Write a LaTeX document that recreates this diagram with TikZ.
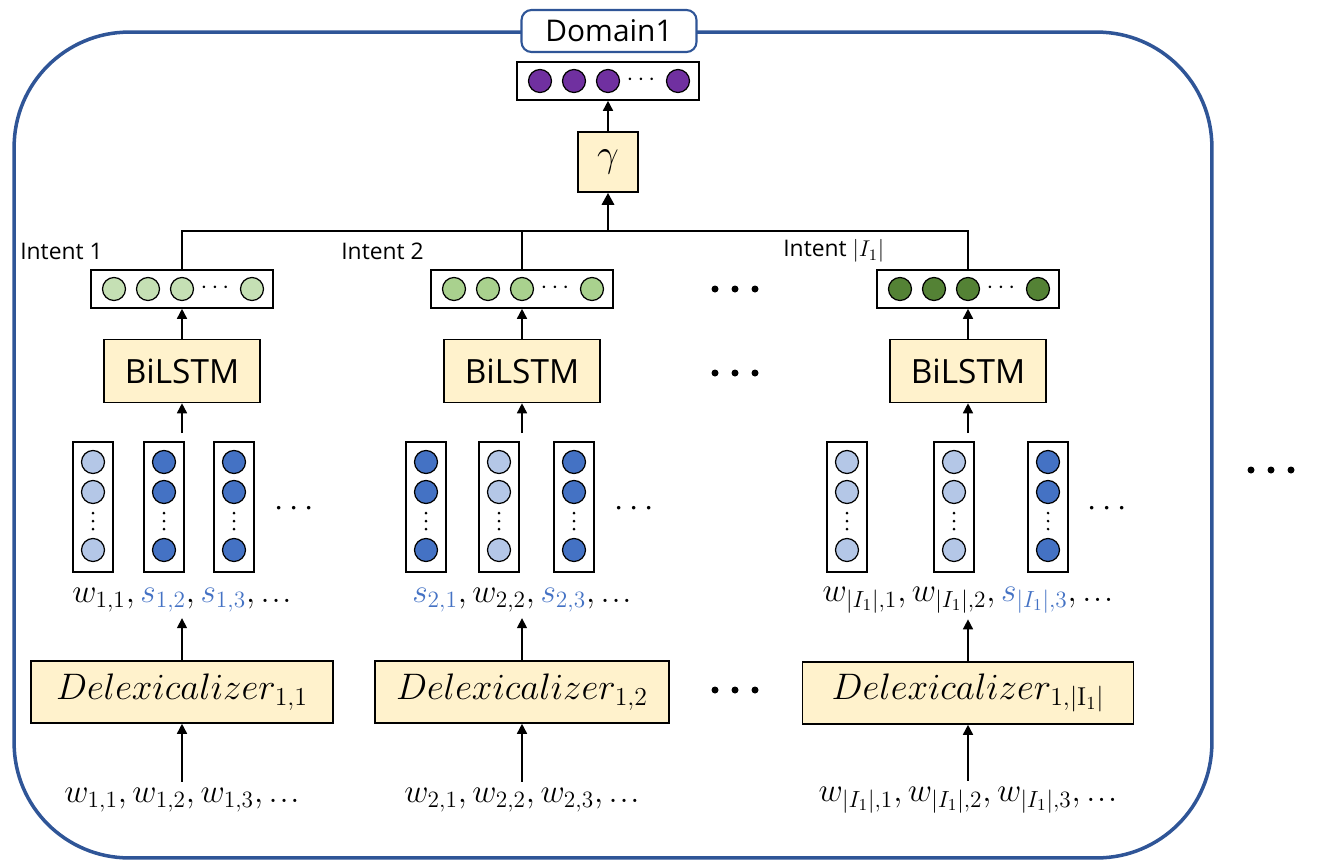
\RequirePackage{fix-cm}
\documentclass[tikz,border=0pt]{standalone}
\usepackage{amsmath}
\usepackage{fontspec}
\setsansfont{Open Sans}
\usetikzlibrary{arrows.meta, positioning, calc}
\definecolor{framecolor}{RGB}{47,85,151}
\definecolor{boxfill}{RGB}{255,242,204}
\definecolor{slotblue}{RGB}{68,114,196}
\definecolor{wordblue}{RGB}{180,199,231}
\definecolor{intgreenA}{RGB}{197,224,180}
\definecolor{intgreenB}{RGB}{169,209,142}
\definecolor{intgreenC}{RGB}{84,130,53}
\definecolor{dompurple}{RGB}{112,48,160}

\newcommand{\tdots}{\mathinner{.\mkern1mu.\mkern1mu.}}
\newcommand{\hvec}[4]{%
  \node[hbox] (#1) at (#2,#3) {};
  \foreach \dx [count=\i] in {-68,-34,0,70}
    \node[unit, fill=#4] (#1-\i) at ($(#1)+(\dx,0)$) {};
  \node[inner sep=0pt, font=\fontsize{14}{16}\selectfont] (#1-dots) at ($(#1)+(35,-1)$) {$\cdots$};
}
\newcommand{\wvec}[3]{%
  \node[vbox] (#1) at (#2,507) {};
  \foreach \dy [count=\i] in {-45,-15,43}
    \node[unit, fill=#3] (#1-\i) at ($(#1)+(0,\dy)$) {};
  \foreach \dy in {6,14,22}
    \fill ($(#1)+(0,\dy)$) circle (0.03cm);
}
\newcommand{\bigdots}[2]{%
  \foreach \dx in {-20,0,20}
    \fill ($(#1,#2)+(\dx,0)$) circle (0.07cm);
}

\begin{document}
\begin{tikzpicture}[
    x=0.02cm, y=-0.02cm,
    frame/.style={draw=framecolor, line width=2pt, rounded corners=2.3cm, minimum width=23.96cm, minimum height=16.52cm},
    dombox/.style={draw=framecolor, line width=1.2pt, fill=white, rounded corners=0.2cm, minimum width=3.5cm, minimum height=0.84cm, font=\sffamily\fontsize{17}{20}\selectfont},
    hbox/.style={draw, line width=0.9pt, minimum width=3.64cm, minimum height=0.76cm, inner sep=0pt},
    vbox/.style={draw, line width=0.9pt, minimum width=0.8cm, minimum height=2.6cm, inner sep=0pt},
    unit/.style={circle, draw, line width=0.7pt, minimum size=0.46cm, inner sep=0pt},
    block/.style={draw, line width=0.9pt, fill=boxfill, inner sep=0pt},
    lstm/.style={block, minimum width=3.12cm, minimum height=1.26cm, font=\sffamily\fontsize{19}{22}\selectfont},
    delex/.style={block, minimum height=1.24cm, font=\fontsize{21}{25}\selectfont},
    intent/.style={anchor=west, inner sep=0pt, font=\sffamily\fontsize{13}{15}\selectfont},
    row/.style={font=\fontsize{19}{23}\selectfont},
    more/.style={inner sep=0pt, font=\fontsize{19}{23}\selectfont},
    arrow/.style={-{Triangle[length=2mm,width=2mm]}, line width=0.9pt},
    tree/.style={line width=1.1pt},
    bigarrow/.style={-{Triangle[length=2.4mm,width=2.4mm]}, line width=1.7pt}
]
\useasboundingbox (0,0) rectangle (1336,863);
\node[frame] (domain) at (613,445) {};
\node[dombox] (domlabel) at (609,31) {Domain1};

\hvec{dvec}{608}{81}{dompurple}
\node[block, minimum size=1.2cm, font=\fontsize{22}{26}\selectfont] (gam) at (608,162) {$\gamma$};
\coordinate (join) at (608,231);

\node[intent] (int1) at (20,251) {Intent 1};
\node[intent] (int2) at (341,251) {Intent 2};
\node[intent] (int3) at (783,251) {Intent $|I_1|$};

\hvec{g1}{182}{289}{intgreenA}
\hvec{g2}{522}{289}{intgreenB}
\hvec{g3}{968}{289}{intgreenC}

\node[lstm] (lstm1) at (182,371) {BiLSTM};
\node[lstm] (lstm2) at (522,371) {BiLSTM};
\node[lstm] (lstm3) at (968,371) {BiLSTM};

\coordinate (top1) at (182,433);
\coordinate (top2) at (522,433);
\coordinate (top3) at (968,433);

\wvec{e11}{93}{wordblue}
\wvec{e12}{164}{slotblue}
\wvec{e13}{234}{slotblue}
\node[more] (more1) at (297,509) {$\cdots$};
\wvec{e21}{426}{slotblue}
\wvec{e22}{499}{wordblue}
\wvec{e23}{574}{slotblue}
\node[more] (more2) at (637,509) {$\cdots$};
\wvec{e31}{847}{wordblue}
\wvec{e32}{954}{wordblue}
\wvec{e33}{1048}{slotblue}
\node[more] (more3) at (1110,509) {$\cdots$};

\node[row] (lab1) at (182,600) {$w_{1,1}, \textcolor{slotblue}{s_{1,2}}, \textcolor{slotblue}{s_{1,3}}, \tdots$};
\node[row] (lab2) at (522,600) {$\textcolor{slotblue}{s_{2,1}}, w_{2,2}, \textcolor{slotblue}{s_{2,3}}, \tdots$};
\node[row] (lab3) at (968,600) {$w_{|I_1|,1}, w_{|I_1|,2}, \textcolor{slotblue}{s_{|I_1|,3}}, \tdots$};

\node[delex, minimum width=6.04cm] (dlx1) at (182,692) {$Delexicalizer_{1,1}$};
\node[delex, minimum width=5.88cm] (dlx2) at (522,692) {$Delexicalizer_{1,2}$};
\node[delex, minimum width=6.62cm] (dlx3) at (968,693) {$Delexicalizer_{1,|\mathrm{I}_1|}$};

\node[row] (in1) at (182,800) {$w_{1,1}, w_{1,2}, w_{1,3}, \tdots$};
\node[row] (in2) at (522,800) {$w_{2,1}, w_{2,2}, w_{2,3}, \tdots$};
\node[row] (in3) at (968,800) {$w_{|I_1|,1}, w_{|I_1|,2}, w_{|I_1|,3}, \tdots$};

\bigdots{735}{289}
\bigdots{735}{373}
\bigdots{735}{690}
\bigdots{1271}{470}

\draw[arrow] (gam) -- (dvec);
\draw[tree] (g1.north) |- (join) -| (g3.north);
\draw[tree] (g2.north) -- (g2.north |- join);
\draw[bigarrow] (join) -- (gam);
\foreach \c in {1,2,3} {
  \draw[arrow] (lstm\c) -- (g\c);
  \draw[arrow] (top\c) -- (lstm\c);
  \draw[arrow] (dlx\c) -- (lab\c);
  \draw[arrow] (in\c) -- (dlx\c);
}
\end{tikzpicture}
\end{document}
